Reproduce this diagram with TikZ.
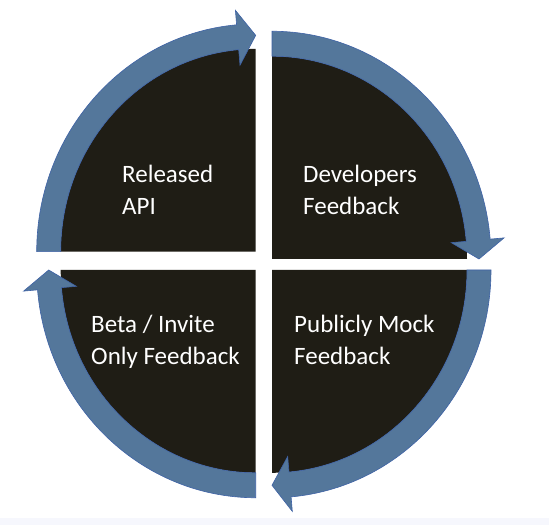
\documentclass[tikz,border=0pt]{standalone}
\usepackage{fontspec}
\setmainfont{Carlito}
\definecolor{wedge}{HTML}{1F1D15}
\definecolor{ring}{HTML}{54779B}
\definecolor{ringedge}{HTML}{3E62A6}
\definecolor{strip}{HTML}{F6F7FD}
\begin{document}
\begin{tikzpicture}[x=1pt,y=1pt,
  wedgefill/.style={fill=wedge},
  ringarrow/.style={fill=ring,draw=ringedge,line width=0.6pt,line join=miter},
  lbl/.style={text=white,font=\fontsize{25}{32}\selectfont,align=left,anchor=base west,inner sep=0pt}]
\useasboundingbox (0,0) rectangle (549,525);
\fill[white] (0,0) rectangle (549,525);
\fill[strip] (0,0) rectangle (549,7);
% top-left
\begin{scope}[shift={(255.7,273.3)},yscale=1.04]
  \fill[wedgefill] (0,0) -- (180:195) arc[start angle=180,end angle=90,radius=195] -- cycle;
  \path[ringarrow] (180:219) arc[start angle=180,end angle=95,radius=219] -- (95:233) -- (90:208) -- (95:180) -- (95:195) arc[start angle=95,end angle=180,radius=195] -- cycle;
\end{scope}
% top-right
\begin{scope}[shift={(272,266)},yscale=1.04]
  \fill[wedgefill] (0,0) -- (90:195) arc[start angle=90,end angle=0,radius=195] -- cycle;
  \path[ringarrow] (90:219) arc[start angle=90,end angle=5,radius=219] -- (5:233) -- (0:207) -- (5:180) -- (5:195) arc[start angle=5,end angle=90,radius=195] -- cycle;
\end{scope}
% bottom-right
\begin{scope}[shift={(272,255)},yscale=1.04]
  \fill[wedgefill] (0,0) -- (0:195) arc[start angle=0,end angle=-90,radius=195] -- cycle;
  \path[ringarrow] (0:219) arc[start angle=0,end angle=-85,radius=219] -- (-85:233) -- (-90:207) -- (-85:180) -- (-85:195) arc[start angle=-85,end angle=0,radius=195] -- cycle;
\end{scope}
% bottom-left
\begin{scope}[shift={(255.7,255)},yscale=1.04]
  \fill[wedgefill] (0,0) -- (-90:195) arc[start angle=-90,end angle=-180,radius=195] -- cycle;
  \path[ringarrow] (-90:219) arc[start angle=-90,end angle=-175,radius=219] -- (-175:233) -- (-180:207) -- (-175:180) -- (-175:195) arc[start angle=-175,end angle=-90,radius=195] -- cycle;
\end{scope}
\node[lbl] (api) at (122,310) {Released\\API};
\node[lbl] (dev) at (303,310) {Developers\\Feedback};
\node[lbl] (beta) at (91,160) {Beta / Invite\\Only Feedback};
\node[lbl] (mock) at (294,160) {Publicly Mock\\Feedback};
\end{tikzpicture}
\end{document}
